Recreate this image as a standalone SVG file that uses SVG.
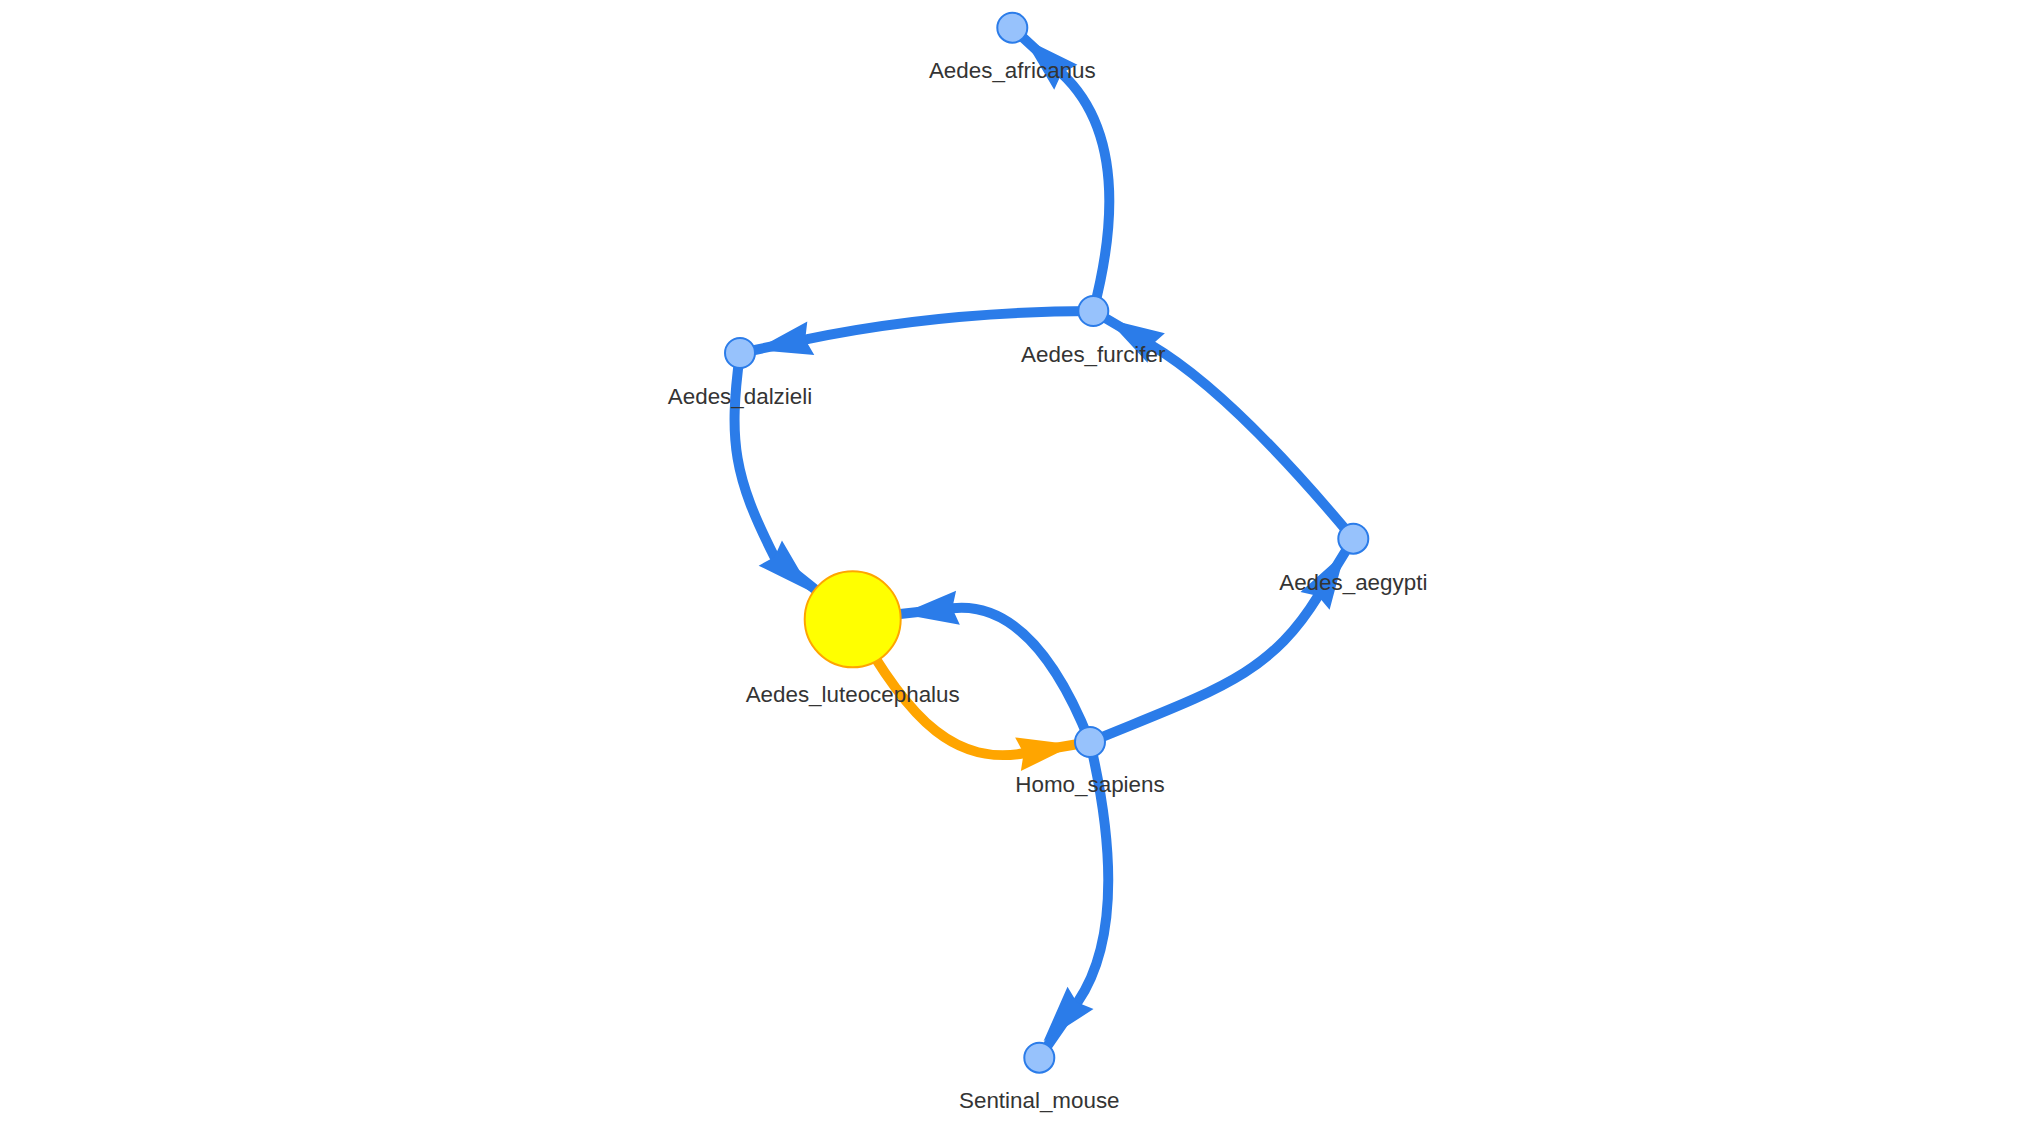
<svg xmlns="http://www.w3.org/2000/svg" xmlns:xlink="http://www.w3.org/1999/xlink" width="2044" height="1140" viewBox="0 0 2044 1140">
  <style>
    .edge { fill: none; stroke: #2B7CE9; stroke-width: 10; stroke-linejoin: round; }
    .edge.hl { stroke: #FFA500; }
    .arrow { fill: #2B7CE9; }
    .arrow.hl { fill: #FFA500; }
    .node circle { fill: #97C2FC; stroke: #2B7CE9; stroke-width: 2; }
    .node.hl circle { fill: #FFFF00; stroke: #FFA500; }
    .node text { font-family: "Liberation Sans", Arial, Helvetica, sans-serif; font-size: 22.4px; fill: #343434; text-anchor: middle; }
  </style>
  <defs>
    <path id="arrowhead" d="M0,0 L-57,-17.1 L-51.3,0 L-57,17.1 Z"/>
  </defs>
  <rect width="2044" height="1140" fill="#FFFFFF"/>
  <g id="edges">
    <path id="e-furcifer-africanus" class="edge" d="M1093.3,311 Q1137,143.3 1061.4,73.1 L1012.3,27.7"/>
    <path id="e-furcifer-dalzieli" class="edge" d="M1093.3,311 Q939,311.5 804.9,339.6 L740,353"/>
    <path id="e-aegypti-furcifer" class="edge" d="M1353.3,538.7 Q1231,392 1151,345 L1093.3,311"/>
    <path id="e-dalzieli-luteocephalus" class="edge" d="M740,353 C728.1,442.2 734,476.9 774.5,557 L852.7,619.3"/>
    <path id="e-homo-luteocephalus" class="edge" d="M1090,742 Q1033.3,599.3 952,608.3 L852.7,619.3"/>
    <path id="e-homo-aegypti" class="edge" d="M1090,742 C1215.1,690.3 1268.4,676.7 1318.2,595.8 L1353.3,538.7"/>
    <path id="e-homo-sentinal" class="edge" d="M1090,742 Q1132,923.2 1077.4,1002.5 L1039.3,1057.7"/>
    <path id="e-luteocephalus-homo" class="edge hl" d="M852.7,619.3 C911.7,727.5 958.7,764.4 1023.9,753.3 L1090,742"/>
    <use class="arrow" xlink:href="#arrowhead" href="#arrowhead" transform="translate(1024,38.5) rotate(-137.2)"/>
    <use class="arrow" xlink:href="#arrowhead" href="#arrowhead" transform="translate(755,350) rotate(168.2)"/>
    <use class="arrow" xlink:href="#arrowhead" href="#arrowhead" transform="translate(1107.1,319.1) rotate(-149.5)"/>
    <use class="arrow" xlink:href="#arrowhead" href="#arrowhead" transform="translate(812,592) rotate(43)"/>
    <use class="arrow" xlink:href="#arrowhead" href="#arrowhead" transform="translate(901.3,613.9) rotate(173.7)"/>
    <use class="arrow" xlink:href="#arrowhead" href="#arrowhead" transform="translate(1344.9,552.3) rotate(-58.4)"/>
    <use class="arrow" xlink:href="#arrowhead" href="#arrowhead" transform="translate(1043.5,1041.3) rotate(130.5)"/>
    <use class="arrow hl" xlink:href="#arrowhead" href="#arrowhead" transform="translate(1074.2,744.7) rotate(-9.65)"/>
  </g>
  <g id="node-Aedes_africanus" class="node">
    <circle cx="1012.3" cy="27.7" r="15"/>
    <text x="1012.3" y="78">Aedes_africanus</text>
  </g>
  <g id="node-Aedes_furcifer" class="node">
    <circle cx="1093.3" cy="311" r="15"/>
    <text x="1093.3" y="361.5">Aedes_furcifer</text>
  </g>
  <g id="node-Aedes_dalzieli" class="node">
    <circle cx="740" cy="353" r="15"/>
    <text x="740" y="403.5">Aedes_dalzieli</text>
  </g>
  <g id="node-Aedes_aegypti" class="node">
    <circle cx="1353.3" cy="538.7" r="15"/>
    <text x="1353.3" y="589.5">Aedes_aegypti</text>
  </g>
  <g id="node-Aedes_luteocephalus" class="node hl">
    <circle cx="852.7" cy="619.3" r="48"/>
    <text x="852.7" y="702">Aedes_luteocephalus</text>
  </g>
  <g id="node-Homo_sapiens" class="node">
    <circle cx="1090" cy="742" r="15"/>
    <text x="1090" y="792">Homo_sapiens</text>
  </g>
  <g id="node-Sentinal_mouse" class="node">
    <circle cx="1039.3" cy="1057.7" r="15"/>
    <text x="1039.3" y="1108">Sentinal_mouse</text>
  </g>
</svg>
